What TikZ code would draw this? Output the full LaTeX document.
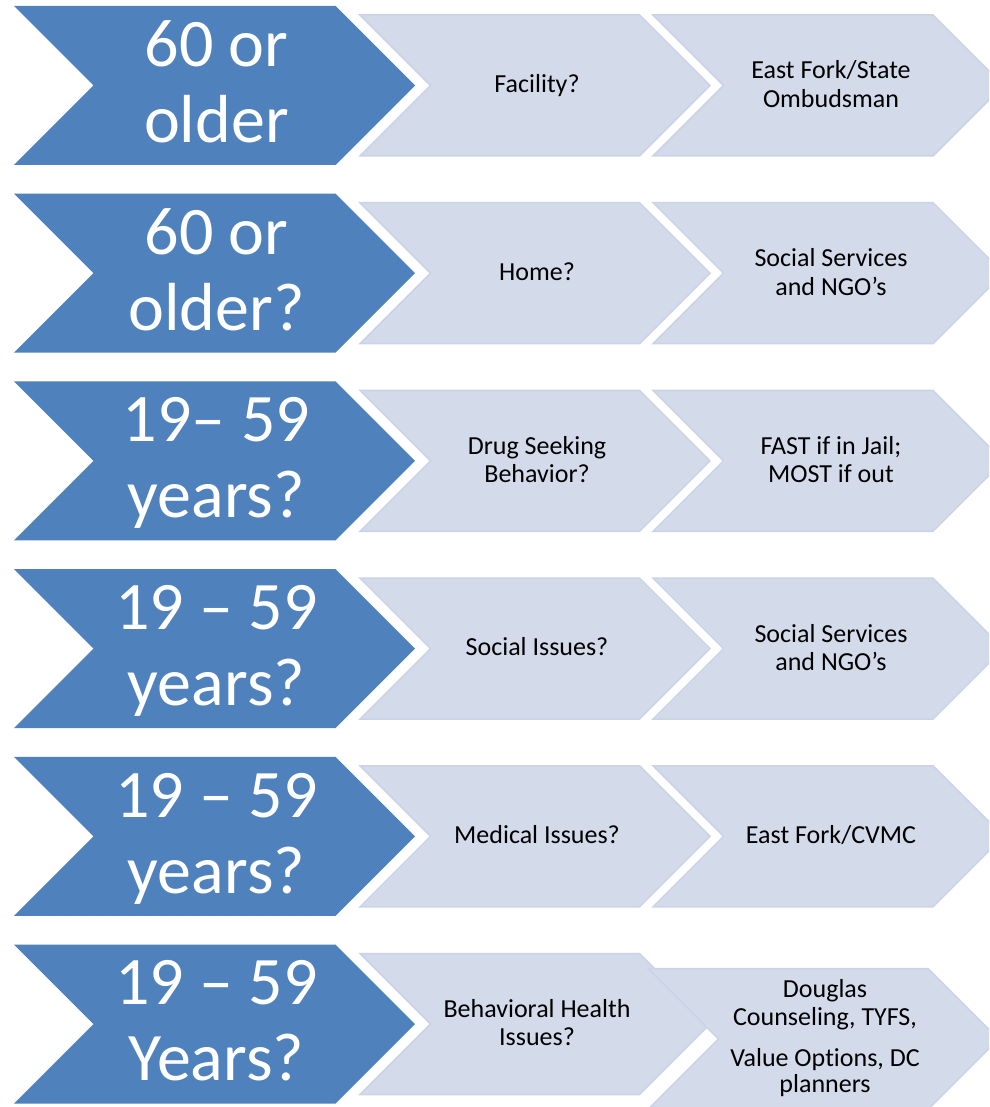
\documentclass[tikz,border=0pt]{standalone}
\usepackage{fontspec}
\setmainfont{Carlito}[Ligatures={NoCommon}]
\definecolor{darkblue}{RGB}{79,129,189}
\definecolor{lightfill}{RGB}{211,218,234}
\definecolor{lightedge}{RGB}{203,211,230}
\tikzset{
  darkchev/.style={fill=darkblue, draw=none},
  lightchev/.style={fill=lightfill, draw=lightedge, line width=1.5pt, line join=miter},
  bigtext/.style={text=white, font=\fontsize{68}{76}\selectfont, align=center, inner sep=0pt, anchor=base},
  smalltext/.style={text=black, font=\fontsize{26}{28.3}\selectfont, align=center, inner sep=0pt, anchor=base},
}
\newcommand{\mychevron}[5]{%
  \path[#1] (#2,#3) -- ({#2+#4-#5/2},#3) -- ({#2+#4},{#3+#5/2}) -- ({#2+#4-#5/2},{#3+#5}) -- (#2,{#3+#5}) -- ({#2+#5/2},{#3+#5/2}) -- cycle;}
\begin{document}
\begin{tikzpicture}[x=1pt,y=-1pt]
\clip (0,0) rectangle (989,1107);
\fill[white] (0,0) rectangle (989,1107);
% chevrons
\foreach \t in {6,193.7,381.4,569.1,756.8}{
  \mychevron{darkchev}{14}{\t}{401}{159}
  \mychevron{lightchev}{360}{\t+9}{350}{141}
  \mychevron{lightchev}{653}{\t+9}{350.5}{141}
}
\mychevron{darkchev}{14}{944.5}{401}{159}
\mychevron{lightchev}{360}{953.5}{350}{141}
\mychevron{lightchev}{648}{968.5}{350.5}{141}
% row 1
\node[bigtext] (a1) at (216.5,142.5) {60 or\\older};
\node[smalltext] (b1) at (537,92.7) {Facility?};
\node[smalltext] (c1) at (831,107.3) {East Fork/State\\Ombudsman};
% row 2
\node[bigtext] (a2) at (216.5,330.2) {60 or\\older?};
\node[smalltext] (b2) at (537,280.4) {Home?};
\node[smalltext] (c2) at (831,295) {Social Services\\and NGO’s};
% row 3
\node[bigtext] (a3) at (216.5,517.9) {19– 59\\years?};
\node[smalltext] (b3) at (537,482.7) {Drug Seeking\\Behavior?};
\node[smalltext] (c3) at (831,482.7) {FAST if in Jail;\\MOST if out};
% row 4
\node[bigtext] (a4) at (216.5,705.6) {19 – 59\\years?};
\node[smalltext] (b4) at (537,655.8) {Social Issues?};
\node[smalltext] (c4) at (831,670.4) {Social Services\\and NGO’s};
% row 5
\node[bigtext] (a5) at (216.5,893.3) {19 – 59\\years?};
\node[smalltext] (b5) at (537,843.5) {Medical Issues?};
\node[smalltext] (c5) at (831,843.5) {East Fork/CVMC};
% row 6
\node[bigtext] (a6) at (216.5,1080) {19 – 59\\Years?};
\node[smalltext] (b6) at (537,1045.8) {Behavioral Health\\Issues?};
\node[smalltext] (c6) at (825,1092) {Douglas\\Counseling, TYFS,\\[12pt]Value Options, DC\\[-2.5pt]planners};
\end{tikzpicture}
\end{document}
